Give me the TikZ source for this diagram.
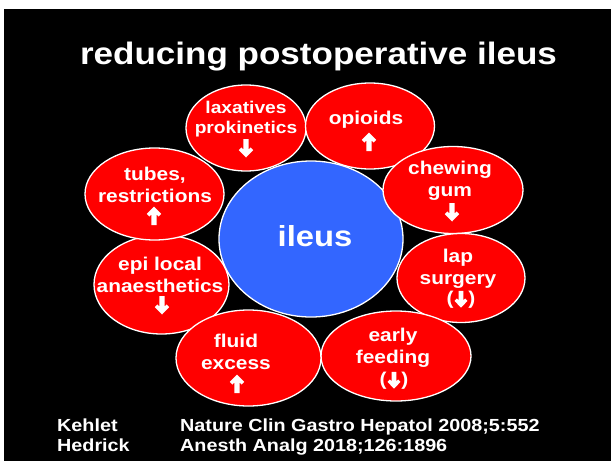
\documentclass[tikz,border=0pt]{standalone}
\usepackage{fontspec}
\setmainfont{Liberation Sans}[FakeStretch=1.13]
\usetikzlibrary{shapes.geometric}
\definecolor{slidered}{RGB}{255,0,0}
\definecolor{slideblue}{RGB}{51,102,255}
\tikzset{
  oval/.style={ellipse, fill=slidered, draw=white, line width=1.3pt, inner sep=0pt},
  lbl/.style={text=white, align=center, inner sep=0pt, font=\bfseries\fontsize{18.5}{22}\selectfont},
  foot/.style={text=white, inner sep=0pt, anchor=base west, font=\bfseries\fontsize{17.5}{20}\selectfont},
  uparr/.pic={\fill[white] (0,-9.5) -- (7.2,-2.2) -- (4.6,0.6) -- (2.7,-1.4) -- (2.7,9) -- (-2.7,9) -- (-2.7,-1.4) -- (-4.6,0.6) -- (-7.2,-2.2) -- cycle;},
  dnarr/.pic={\fill[white] (0,9.5) -- (7.2,2.2) -- (4.6,-0.6) -- (2.7,1.4) -- (2.7,-9) -- (-2.7,-9) -- (-2.7,1.4) -- (-4.6,-0.6) -- (-7.2,2.2) -- cycle;},
}
\begin{document}
\begin{tikzpicture}[x=1pt,y=-1pt]
\useasboundingbox (0,0) rectangle (611,461);
\fill[white] (0,0) rectangle (611,461);
\fill[black] (4,9) rectangle (611,461);
% title
\node[text=white, inner sep=0pt, anchor=base, font=\bfseries\fontsize{31}{36}\selectfont] (title) at (318.5,64) {reducing postoperative ileus};
% centre
\node[ellipse, fill=slideblue, draw=white, line width=1.3pt, minimum width=184pt, minimum height=156pt, inner sep=0pt] (ileus) at (311,239) {};
\node[text=white, inner sep=0pt, anchor=base, font=\bfseries\fontsize{29}{34}\selectfont] (ileustxt) at (315,246) {ileus};
% ovals
\node[oval, minimum width=120pt, minimum height=86pt] (lax) at (246,128) {};
\node[oval, minimum width=129pt, minimum height=86pt] (opi) at (370,126) {};
\node[oval, minimum width=140pt, minimum height=87pt] (chew) at (453,190) {};
\node[oval, minimum width=128pt, minimum height=89pt] (lap) at (461,278) {};
\node[oval, minimum width=135pt, minimum height=99pt] (epi) at (161.5,284.5) {};
\node[oval, minimum width=139pt, minimum height=92pt] (tube) at (154.5,194) {};
\node[oval, minimum width=150pt, minimum height=90pt] (early) at (396,356) {};
\node[oval, minimum width=145pt, minimum height=96pt] (fluid) at (248.5,358) {};
% labels
\node[lbl, font=\bfseries\fontsize{17}{20}\selectfont] (laxt) at (246,119) {laxatives\\prokinetics};
\pic at (246,148) {dnarr};
\node[lbl] (opit) at (366,120) {opioids};
\pic at (369,142) {uparr};
\node[lbl] (chewt) at (450,181) {chewing\\gum};
\pic at (452,212) {dnarr};
\node[lbl] (tubet) at (155,184.5) {tubes,\\restrictions};
\pic at (154,216) {uparr};
\node[lbl] (epit) at (160,275) {epi local\\anaesthetics};
\pic at (162,305) {dnarr};
\node[lbl] (fluidt) at (236,352) {fluid\\excess};
\pic at (237,384) {uparr};
\node[lbl] (lapt) at (458,269) {lap\\surgery};
\node[lbl] (lapp) at (461,300) {(\hspace{15pt})};
\pic[scale=0.9] at (461,299) {dnarr};
\node[lbl] (earlyt) at (393,347.5) {early\\feeding};
\node[lbl] (earlyp) at (394,381) {(\hspace{15pt})};
\pic[scale=0.9] at (394,380) {dnarr};
% footer
\node[foot] (k1) at (57,431) {Kehlet};
\node[foot] (k2) at (180,431) {Nature Clin Gastro Hepatol 2008;5:552};
\node[foot] (h1) at (57,451) {Hedrick};
\node[foot] (h2) at (180,451) {Anesth Analg 2018;126:1896};
\end{tikzpicture}
\end{document}
